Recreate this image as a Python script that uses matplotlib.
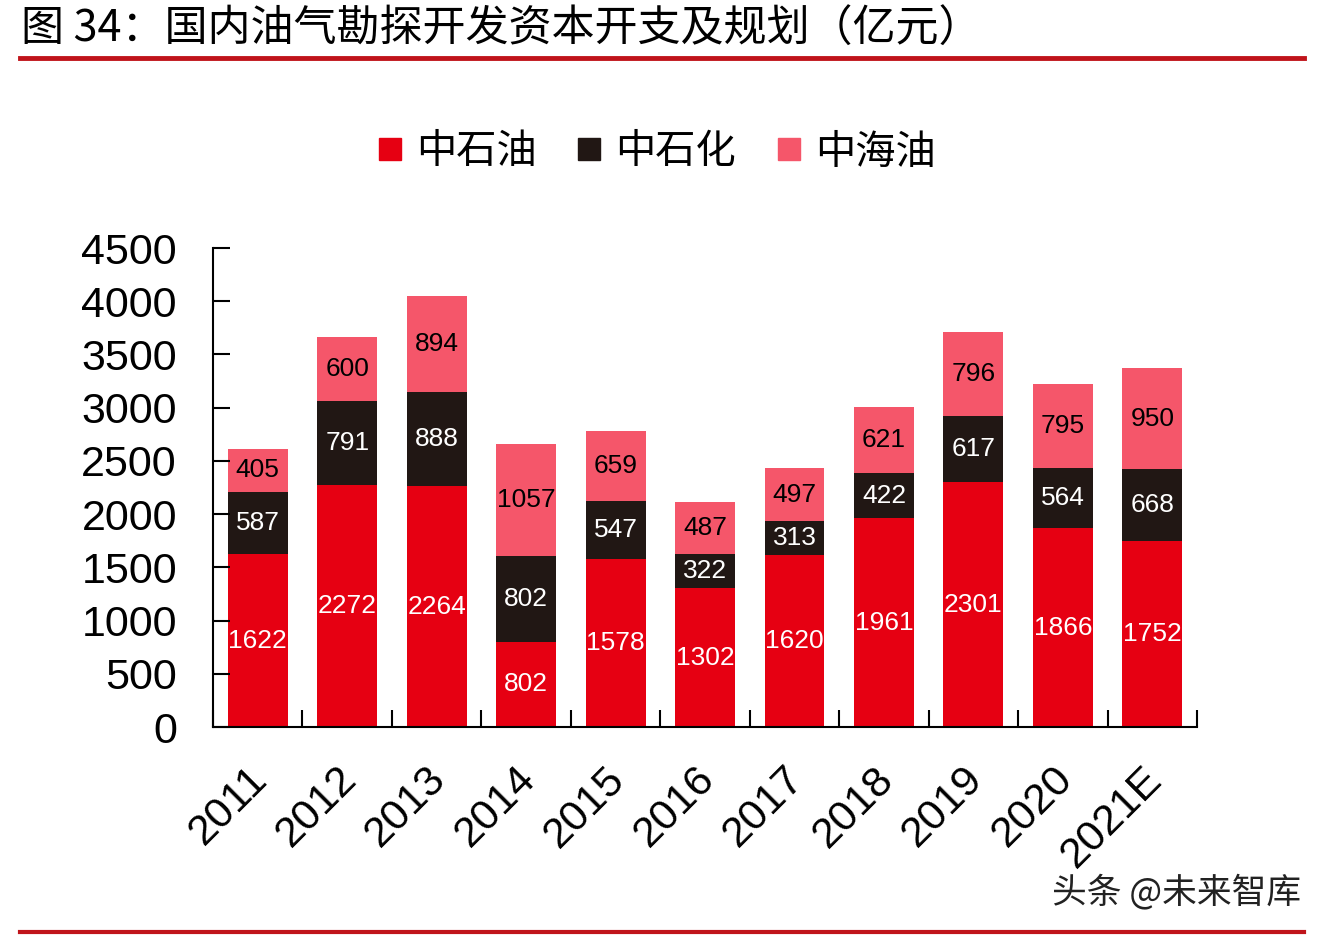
import matplotlib
matplotlib.use("Agg")
import matplotlib.pyplot as plt
import numpy as np
from matplotlib.lines import Line2D

plt.rcParams['font.family'] = ['Liberation Sans', 'Noto Sans CJK SC', 'DejaVu Sans']

years = ['2011', '2012', '2013', '2014', '2015', '2016', '2017', '2018', '2019', '2020', '2021E']
cnpc = [1622, 2272, 2264, 802, 1578, 1302, 1620, 1961, 2301, 1866, 1752]      # 中石油
sinopec = [587, 791, 888, 802, 547, 322, 313, 422, 617, 564, 668]              # 中石化
cnooc = [405, 600, 894, 1057, 659, 487, 497, 621, 796, 795, 950]               # 中海油

series_names = ['中石油', '中石化', '中海油']
colors = ['#E60012', '#211714', '#F5566A']
text_colors = ['white', 'white', 'black']

fig = plt.figure(figsize=(13.28, 9.38), dpi=100)
ax = fig.add_axes([0.1604, 0.2249, 0.741, 0.5107])

x = np.arange(len(years))
bottom = np.zeros(len(years))
for vals, name, c, tc in zip([cnpc, sinopec, cnooc], series_names, colors, text_colors):
    vals = np.array(vals)
    ax.bar(x, vals, width=0.67, bottom=bottom, color=c, label=name)
    for xi, b, v in zip(x, bottom, vals):
        ax.text(xi, b + v / 2, str(v), ha='center', va='center', fontsize=19, color=tc)
    bottom += vals

ax.set_xlim(-0.5, len(years) - 0.5)
ax.set_ylim(0, 4500)
ax.set_yticks(np.arange(0, 4501, 500))
ax.tick_params(axis='y', direction='in', length=12, width=1.5, labelsize=31, pad=26)
ax.set_xticks(np.arange(-0.5, len(years), 1.0))
ax.set_xticklabels([])
ax.tick_params(axis='x', direction='in', length=12, width=1.5)
for xi, yr in zip(x, years):
    ax.text(xi - 0.12, -300, yr, rotation=45, ha='right', va='top', fontsize=31,
            rotation_mode='anchor')

for s in ['top', 'right']:
    ax.spines[s].set_visible(False)
ax.spines['left'].set_linewidth(1.5)
ax.spines['bottom'].set_linewidth(1.5)

handles = [Line2D([], [], marker='s', linestyle='none', markersize=16, color=c) for c in colors]
fig.legend(handles, series_names, loc='center', bbox_to_anchor=(0.49, 0.838), ncol=3,
           frameon=False, handletextpad=0.05, columnspacing=0.7, handlelength=1.2,
           prop={'family': ['Noto Sans CJK SC'], 'size': 29})

fig.text(0.016, 0.968, '图 34：国内油气勘探开发资本开支及规划（亿元）', fontsize=31,
         family=['Noto Sans CJK SC'], va='center', ha='left')
fig.add_artist(Line2D([0.015, 0.982], [0.938, 0.938], color='#C0141B', linewidth=3.5))
fig.add_artist(Line2D([0.015, 0.982], [0.006, 0.006], color='#C0141B', linewidth=3))
fig.text(0.98, 0.048, '头条 @未来智库', fontsize=25, family=['Noto Sans CJK SC'],
         ha='right', va='center', color='#222222')

fig.savefig('out.png', dpi=100)
